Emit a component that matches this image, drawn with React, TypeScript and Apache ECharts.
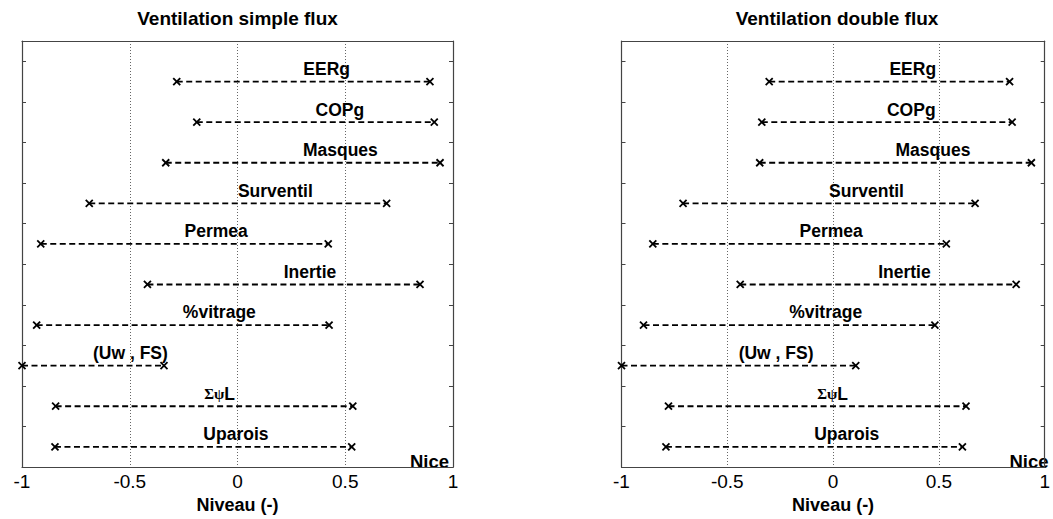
import React, { useEffect, useRef } from "react";
import * as echarts from "echarts";

const categories = ["Uparois", "ΣψL", "(Uw , FS)", "%vitrage", "Inertie", "Permea", "Surventil", "Masques", "COPg", "EERg"];
const levels = [0.5, 1.5, 2.5, 3.5, 4.5, 5.5, 6.5, 7.5, 8.5, 9.5];
const simpleMin = [-0.847, -0.844, -1.0, -0.932, -0.418, -0.913, -0.688, -0.333, -0.189, -0.282];
const simpleMax = [0.53, 0.535, -0.341, 0.425, 0.847, 0.421, 0.692, 0.94, 0.913, 0.893];
const doubleMin = [-0.79, -0.778, -1.0, -0.896, -0.439, -0.852, -0.709, -0.347, -0.337, -0.302];
const doubleMax = [0.611, 0.628, 0.107, 0.481, 0.865, 0.535, 0.671, 0.937, 0.846, 0.834];
const xTicks = ["-1", "-0.5", "0", "0.5", "1"];
const titles = ["Ventilation simple flux", "Ventilation double flux"];
const xName = "Niveau (-)";
const cornerNote = "Nice";

const FONT = "'Liberation Sans', Arial, Helvetica, sans-serif";
const BOX = "#444";
const G = [
  { left: 22, top: 41, width: 431, height: 432 },
  { left: 621.5, top: 41, width: 431, height: 432 },
];

function makeRender(mins: number[], maxs: number[]) {
  return (params: any, api: any) => {
    const i = params.dataIndex;
    const y = levels[i];
    const a = mins[i];
    const b = maxs[i];
    const p1 = api.coord([a, y]);
    const p2 = api.coord([b, y]);
    const lab = api.coord([(a + b) / 2, y + 0.31]);
    const s = 3.5;
    const mark = (p: number[]) => [
      { type: "line", shape: { x1: p[0] - s, y1: p[1] - s, x2: p[0] + s, y2: p[1] + s }, style: { stroke: "#000", lineWidth: 1.8 } },
      { type: "line", shape: { x1: p[0] - s, y1: p[1] + s, x2: p[0] + s, y2: p[1] - s }, style: { stroke: "#000", lineWidth: 1.8 } },
    ];
    const name = categories[i];
    const isSigma = name === "ΣψL";
    const textEl: any = {
      type: "text",
      x: lab[0],
      y: lab[1],
      style: isSigma
        ? {
            text: "{g|Σψ}{b|L}",
            align: "left",
            verticalAlign: "middle",
            rich: {
              g: { fontFamily: "'Liberation Serif', 'DejaVu Serif', serif", fontSize: 15, fontWeight: "bold", fill: "#000" },
              b: { fontFamily: FONT, fontSize: 17.5, fontWeight: "bold", fill: "#000" },
            },
          }
        : {
            text: name,
            align: "left",
            verticalAlign: "middle",
            fontFamily: FONT,
            fontSize: 17.5,
            fontWeight: "bold",
            fill: "#000",
          },
    };
    return {
      type: "group",
      children: [
        {
          type: "line",
          shape: { x1: p1[0], y1: p1[1], x2: p2[0], y2: p2[1] },
          style: { stroke: "#000", lineWidth: 1.8, lineDash: [6, 3.5] },
        },
        ...mark(p1),
        ...mark(p2),
        textEl,
      ],
    };
  };
}

export default function App() {
  const ref = useRef<HTMLDivElement>(null);
  useEffect(() => {
    if (!ref.current) return;
    const chart = echarts.init(ref.current, undefined, { renderer: "svg" });
    const xAxes: any[] = [];
    const yAxes: any[] = [];
    G.forEach((_, gi) => {
      xAxes.push({
        type: "value",
        gridIndex: gi,
        min: -1,
        max: 1,
        interval: 0.5,
        position: "bottom",
        name: xName,
        nameLocation: "middle",
        nameGap: 24,
        nameTextStyle: { fontFamily: FONT, fontSize: 18, fontWeight: "bold", color: "#000", verticalAlign: "top" },
        axisLine: { show: true, onZero: false, lineStyle: { color: BOX, width: 1.2 } },
        axisTick: { show: false },
        axisLabel: {
          show: true,
          margin: 5,
          fontFamily: FONT,
          fontSize: 19,
          color: "#000",
          formatter: (v: number) => xTicks[Math.round((v + 1) / 0.5)] ?? String(v),
        },
        splitLine: { show: true, lineStyle: { color: "#666", type: [1, 2], width: 1 } },
      });
      xAxes.push({
        type: "value",
        gridIndex: gi,
        min: -1,
        max: 1,
        interval: 0.5,
        position: "top",
        axisLine: { show: true, onZero: false, lineStyle: { color: BOX, width: 1.2 } },
        axisTick: { show: false },
        axisLabel: { show: false },
        splitLine: { show: false },
      });
      yAxes.push({
        type: "value",
        gridIndex: gi,
        min: 0,
        max: 10.5,
        interval: 1,
        position: "left",
        axisLine: { show: true, onZero: false, lineStyle: { color: BOX, width: 1.2 } },
        axisTick: { show: true, inside: true, length: 4, lineStyle: { color: BOX } },
        axisLabel: { show: false },
        splitLine: { show: false },
      });
      yAxes.push({
        type: "value",
        gridIndex: gi,
        min: 0,
        max: 10.5,
        interval: 1,
        position: "right",
        axisLine: { show: true, onZero: false, lineStyle: { color: BOX, width: 1.2 } },
        axisTick: { show: true, inside: true, length: 4, lineStyle: { color: BOX } },
        axisLabel: { show: false },
        splitLine: { show: false },
      });
    });

    const series = [
      { mins: simpleMin, maxs: simpleMax },
      { mins: doubleMin, maxs: doubleMax },
    ].map((d, gi) => ({
      type: "custom",
      xAxisIndex: gi * 2,
      yAxisIndex: gi * 2,
      clip: false,
      data: categories.map((c, i) => [d.mins[i], d.maxs[i], levels[i]]),
      encode: { x: [0, 1], y: 2 },
      renderItem: makeRender(d.mins, d.maxs),
    }));

    const graphics: any[] = [];
    G.forEach((g, gi) => {
      graphics.push({
        type: "text",
        x: g.left + g.width / 2,
        y: 18.5,
        style: {
          text: titles[gi],
          align: "center",
          verticalAlign: "middle",
          fontFamily: FONT,
          fontSize: 19,
          fontWeight: "bold",
          fill: "#000",
        },
      });
      graphics.push({
        type: "text",
        x: g.left + g.width - 4,
        y: g.top + g.height - 12,
        style: {
          text: cornerNote,
          align: "right",
          verticalAlign: "middle",
          fontFamily: FONT,
          fontSize: 18.5,
          fontWeight: "bold",
          fill: "#000",
        },
      });
    });

    chart.setOption({
      animation: false,
      backgroundColor: "#fff",
      grid: G.map((g) => ({ ...g, show: false, containLabel: false })),
      xAxis: xAxes,
      yAxis: yAxes,
      series,
      graphic: graphics,
    });
    return () => chart.dispose();
  }, []);
  return (
    <div
      ref={ref}
      style={{ position: "fixed", left: 0, top: 0, width: 1053, height: 519, background: "#fff" }}
    />
  );
}
